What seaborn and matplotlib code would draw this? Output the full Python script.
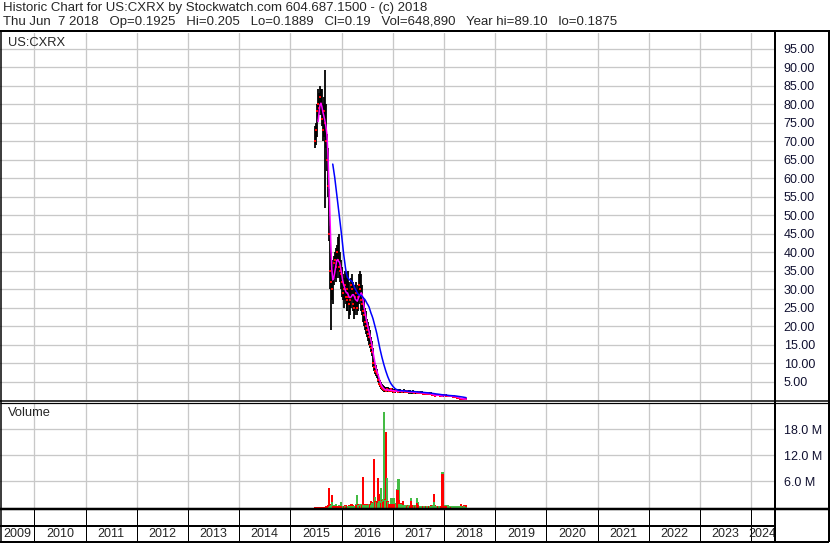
import numpy as np
import pandas as pd
import matplotlib
matplotlib.use("Agg")
import matplotlib.pyplot as plt
from matplotlib.lines import Line2D
import seaborn as sns

# ---------------- data (weekly) ----------------
dates = pd.date_range("2015-06-26", periods=155, freq="W-FRI")

high = [74, 75, 80, 84, 83, 85, 84, 84, 80, 82,
        89.1, 80, 72, 68, 57, 47, 40, 38, 36, 39,
        40, 41, 42, 44, 45, 40, 38, 36, 34, 33,
        35, 34, 32, 33, 35, 32, 30, 33, 34, 32,
        30, 31, 32, 30, 31, 34, 35, 34, 31, 28,
        27, 25, 24, 22, 21, 20, 19, 17, 16, 14,
        11, 10, 9.5, 8.5, 7, 6, 5.5, 5, 4.5, 4,
        3.8, 3.6, 3.5, 3.7, 3.5, 3.3, 3.2, 3.4, 3.2, 3.0,
        3.1, 3.0, 2.9, 3.1, 3.0, 2.8, 2.9, 3.0, 2.8, 2.7,
        2.8, 2.9, 2.7, 2.6, 2.8, 2.7, 2.6, 2.7, 2.6, 2.5,
        2.7, 2.6, 2.5, 2.6, 2.5, 2.4, 2.5, 2.4, 2.3, 2.4,
        2.3, 2.2, 2.3, 2.2, 2.1, 2.2, 2.1, 2.0, 2.1, 2.0,
        1.9, 1.8, 1.7, 1.6, 1.7, 1.8, 1.7, 1.6, 1.5, 1.4,
        1.6, 1.8, 1.7, 1.6, 1.5, 1.4, 1.5, 1.4, 1.3, 1.4,
        1.3, 1.2, 1.3, 1.2, 1.1, 1.0, 0.9, 0.8, 0.7, 0.6,
        0.5, 0.4, 0.35, 0.3, 0.205]

low = [68, 69, 71, 76, 77, 78, 77, 74, 70, 71,
       52, 68, 62, 55, 43, 30, 19, 27, 26, 31,
       33, 32, 33, 35, 33, 32, 30, 28, 27, 25,
       27, 26, 24, 24, 26, 22, 23, 25, 27, 24,
       22, 23, 25, 23, 24, 26, 27, 24, 23, 21,
       20, 19, 18, 17, 16, 15, 14, 13, 12, 9,
       8, 7, 6.5, 6, 5, 4, 3.5, 3, 2.8, 2.5,
       2.3, 2.2, 2.2, 2.3, 2.4, 2.2, 2.1, 2.3, 2.2, 2.0,
       2.1, 2.0, 1.9, 2.1, 2.2, 2.0, 2.0, 2.1, 2.0, 1.9,
       2.0, 2.1, 1.9, 1.9, 2.0, 1.9, 1.8, 1.9, 1.8, 1.8,
       1.9, 1.8, 1.7, 1.8, 1.7, 1.7, 1.8, 1.7, 1.6, 1.7,
       1.6, 1.5, 1.6, 1.5, 1.5, 1.6, 1.5, 1.4, 1.5, 1.4,
       1.2, 1.1, 1.0, 1.0, 1.1, 1.2, 1.1, 1.0, 0.9, 0.9,
       0.9, 1.1, 1.1, 1.0, 1.0, 0.9, 1.0, 0.9, 0.8, 0.9,
       0.8, 0.7, 0.8, 0.7, 0.6, 0.5, 0.4, 0.4, 0.35, 0.3,
       0.25, 0.22, 0.2, 0.19, 0.1889]

close = [70, 73, 78, 80, 79, 82, 80, 76, 73, 78,
         75, 70, 65, 58, 45, 35, 32, 30, 33, 37,
         38, 36, 40, 38, 36, 35, 34, 32, 29, 30,
         31, 28, 27, 30, 28, 26, 27, 31, 30, 26,
         25, 28, 29, 25, 28, 31, 30, 27, 26, 24,
         23, 21, 20, 19, 18, 17, 15, 14, 13, 10,
         9, 8, 7.5, 7, 5.5, 4.5, 4, 3.5, 3.2, 3.0,
         2.8, 2.7, 2.6, 3.0, 2.8, 2.5, 2.6, 2.9, 2.5, 2.4,
         2.6, 2.3, 2.4, 2.7, 2.5, 2.3, 2.5, 2.6, 2.4, 2.2,
         2.4, 2.5, 2.3, 2.2, 2.4, 2.2, 2.1, 2.3, 2.2, 2.1,
         2.3, 2.0, 2.1, 2.2, 2.0, 1.9, 2.1, 2.0, 1.9, 2.0,
         1.8, 1.9, 1.8, 1.7, 1.8, 1.9, 1.7, 1.6, 1.7, 1.5,
         1.4, 1.3, 1.2, 1.3, 1.4, 1.5, 1.3, 1.2, 1.1, 1.0,
         1.3, 1.5, 1.3, 1.2, 1.2, 1.1, 1.2, 1.1, 1.0, 1.1,
         1.0, 0.9, 1.0, 0.9, 0.8, 0.7, 0.6, 0.5, 0.45, 0.4,
         0.35, 0.3, 0.25, 0.22, 0.19]

# volume in millions (down weeks red, up weeks green)
vol_red = [0.1, 0.1, 0.05, 0.1, 0.1, 0.05, 0.1, 0.1, 0.1, 0.15,
           0.2, 0.3, 0.4, 0.6, 4.4, 0.8, 0.5, 2.8, 0.4, 0.3,
           0.3, 0.2, 0.3, 0.2, 0.4, 0.3, 0.2, 0.3, 0.2, 0.4,
           0.3, 0.5, 0.2, 0.3, 0.4, 0.6, 0.4, 0.7, 0.8, 0.5,
           0.3, 0.4, 0.5, 0.3, 0.8, 0.6, 0.4, 0.8, 0.5, 7.0,
           0.7, 0.5, 0.8, 0.7, 0.6, 0.8, 0.7, 1.5, 1.2, 1.0,
           11.1, 1.4, 1.6, 1.2, 6.8, 3.2, 1.6, 1.0, 1.8, 1.2,
           1.4, 2.0, 17.4, 1.6, 1.6, 0.8, 0.7, 0.6, 0.7, 0.5,
           0.7, 0.6, 0.8, 1.0, 4.0, 1.8, 0.9, 0.8, 1.0, 0.7,
           1.6, 0.6, 0.5, 0.6, 0.4, 0.5, 0.6, 0.4, 1.5, 0.5,
           0.3, 0.4, 0.3, 0.5, 1.0, 0.6, 0.3, 0.3, 0.4, 0.3,
           0.3, 0.4, 0.3, 0.3, 0.3, 0.4, 0.3, 0.3, 0.5, 0.4,
           0.6, 3.2, 0.5, 0.4, 0.3, 0.3, 0.4, 0.3, 0.3, 0.4,
           7.8, 0.3, 0.4, 0.3, 0.3, 0.3, 0.4, 0.3, 0.3, 0.2,
           0.3, 0.3, 0.4, 0.3, 0.3, 0.3, 0.4, 0.3, 0.4, 0.7,
           0.3, 0.2, 0.6, 0.6, 0.5]

vol_green = [0, 0, 0, 0, 0, 0, 0, 0, 0, 0,
             0, 0, 0, 0, 0.2, 0.3, 0.5, 1.3, 0.6, 0.5,
             0.6, 0.8, 0.4, 0.3, 0.5, 0.6, 1.3, 0.4, 0.3, 0.3,
             0.4, 0.3, 0.3, 0.4, 0.3, 0.3, 0.4, 0.3, 0.3, 0.4,
             0.3, 0.4, 0.8, 2.8, 0.6, 0.5, 0.8, 0.8, 0.8, 0.6,
             0.4, 0.5, 0.4, 0.6, 0.5, 0.7, 0.8, 0.6, 1.0, 0.9,
             1.4, 2.5, 1.2, 1.3, 1.0, 1.6, 1.2, 4.5, 1.5, 2.0,
             22.0, 1.8, 1.4, 6.8, 1.3, 0.9, 0.8, 2.2, 2.0, 2.2,
             2.1, 0.8, 0.9, 1.0, 4.3, 6.5, 0.8, 0.6, 0.7, 0.5,
             0.6, 0.4, 0.5, 0.6, 0.5, 0.4, 0.5, 0.6, 2.2, 0.6,
             0.5, 0.4, 0.6, 0.5, 2.2, 1.2, 0.4, 0.3, 0.4, 0.3,
             0.4, 0.3, 0.3, 0.4, 0.3, 0.3, 0.4, 0.3, 0.3, 0.4,
             0.5, 1.3, 0.4, 0.3, 0.3, 0.4, 0.3, 0.3, 0.4, 0.3,
             8.3, 0.6, 0.6, 0.6, 0.6, 0.6, 0.4, 0.3, 0.3, 0.3,
             0.3, 0.2, 0.3, 0.3, 0.3, 0.2, 0.3, 0.3, 0.3, 0.3,
             0.2, 0.2, 0.3, 0.2, 0.2]

price_ticks = [5, 10, 15, 20, 25, 30, 35, 40, 45, 50,
               55, 60, 65, 70, 75, 80, 85, 90, 95]
vol_ticks = [6, 12, 18]
years = list(range(2009, 2025))

title_line1 = "Historic Chart for US:CXRX by Stockwatch.com 604.687.1500 - (c) 2018"
title_line2 = ("Thu Jun  7 2018   Op=0.1925   Hi=0.205   Lo=0.1889   Cl=0.19   "
               "Vol=648,890   Year hi=89.10   lo=0.1875")

# ---------------- setup ----------------
sns.set_style("white")
plt.rcParams["font.family"] = ["Liberation Sans", "DejaVu Sans"]

W, H = 830, 543
fig = plt.figure(figsize=(W / 100, H / 100), dpi=100)
fig.patch.set_facecolor("white")
PX = 0.72  # points per pixel


def add_ax(x0, y0, x1, y1):
    return fig.add_axes([x0 / W, 1 - y1 / H, (x1 - x0) / W, (y1 - y0) / H])


def hline(y, x0, x1, lw):
    fig.add_artist(Line2D([x0 / W, x1 / W], [1 - y / H, 1 - y / H],
                          transform=fig.transFigure, color="black", lw=lw * PX,
                          solid_capstyle="butt"))


def vline(x, y0, y1, lw):
    fig.add_artist(Line2D([x / W, x / W], [1 - y0 / H, 1 - y1 / H],
                          transform=fig.transFigure, color="black", lw=lw * PX,
                          solid_capstyle="butt"))


t = dates.year + (dates.dayofyear - 1) / 365.25
df = pd.DataFrame({"t": t, "high": high, "low": low, "close": close,
                   "vr": vol_red, "vg": vol_green})
df["ma_short"] = df["close"].rolling(4).mean()
df["ma_long"] = df["close"].rolling(19).mean()

X0, X1 = 2009.328, 2024.445
GRID = "#c8c8c8"
year_edges = list(range(2010, 2025))

# ---------------- price panel ----------------
axp = add_ax(0, 33, 774, 400.2)
axp.set_xlim(X0, X1)
axp.set_ylim(0, 99.2)
for y in price_ticks:
    axp.axhline(y, color=GRID, lw=1.3 * PX, zorder=0)
for x in year_edges:
    axp.axvline(x, color=GRID, lw=1.3 * PX, zorder=0)
axp.vlines(df["t"], df["low"], df["high"], color="black", lw=1.8 * PX, zorder=2)
axp.plot(df["t"], df["close"], ls="none", marker="s", ms=1.6, color="red",
         mew=0, zorder=3)
sns.lineplot(data=df, x="t", y="ma_short", color="#ff00ff", lw=1.1, ax=axp,
             zorder=4, estimator=None)
sns.lineplot(data=df, x="t", y="ma_long", color="#0000ff", lw=1.1, ax=axp,
             zorder=5, estimator=None)
axp.set_xlabel("")
axp.set_ylabel("")
axp.set_xticks([])
axp.yaxis.tick_right()
axp.set_yticks(price_ticks)
axp.set_yticklabels([f"{v:.2f}" for v in price_ticks])
axp.tick_params(axis="y", length=0, pad=7, labelsize=9, labelcolor="#101030")
for s in axp.spines.values():
    s.set_visible(False)
axp.text(8 / 774, 1 - 10 / 367, "US:CXRX", transform=axp.transAxes,
         fontsize=9.3, va="center", ha="left")

# ---------------- volume panel ----------------
axv = add_ax(0, 403, 774, 507.5)
axv.set_xlim(X0, X1)
axv.set_ylim(0, 24.1)
for y in vol_ticks:
    axv.axhline(y, color=GRID, lw=1.3 * PX, zorder=0)
for x in year_edges:
    axv.axvline(x, color=GRID, lw=1.3 * PX, zorder=0)
vr = np.array(vol_red)
vg = np.array(vol_green)
big = np.maximum(vr, vg)
small = np.minimum(vr, vg)
big_col = np.where(vr >= vg, "#ff0000", "#44bb44")
small_col = np.where(vr >= vg, "#44bb44", "#ff0000")
bw = 2.2 / 52
axv.bar(df["t"], big, width=bw, color=big_col, linewidth=0, zorder=2)
axv.bar(df["t"], small, width=bw, color=small_col, linewidth=0, zorder=3)
axv.set_xticks([])
axv.yaxis.tick_right()
axv.set_yticks(vol_ticks)
axv.set_yticklabels([f"{v:.1f} M" for v in vol_ticks])
axv.tick_params(axis="y", length=0, pad=7, labelsize=9, labelcolor="#101030")
for s in axv.spines.values():
    s.set_visible(False)
axv.text(8 / 774, 1 - 10 / 104.5, "Volume", transform=axv.transAxes,
         fontsize=9.3, va="center", ha="left")

# ---------------- date strip ----------------
axd = add_ax(0, 509, 774, 541)
axd.set_xlim(X0, X1)
axd.set_ylim(0, 1)
axd.set_xticks([])
axd.set_yticks([])
for s in axd.spines.values():
    s.set_visible(False)
for x in year_edges:
    axd.axvline(x, color="black", lw=1.0 * PX)
for yr in years:
    if yr == 2009:
        xc = (X0 + 2010) / 2
    elif yr == 2024:
        xc = (2024 + X1) / 2
    else:
        xc = yr + 0.5
    axd.text(xc, 0.22, str(yr), ha="center", va="center", fontsize=9,
             family=["Liberation Sans Narrow", "Liberation Sans", "DejaVu Sans"])

# ---------------- frame lines ----------------
hline(30.5, 0, 829, 2)
hline(541.5, 0, 829, 2)
vline(0.75, 30, 542, 1.5)
vline(828.5, 30, 542, 2)
vline(774.5, 30, 542, 2)
hline(400.8, 0, 829, 1.5)
hline(403.2, 0, 829, 1.2)
hline(509, 0, 829, 2.5)
hline(525.5, 0, 774, 2)

# ---------------- header ----------------
fig.text(3 / W, 1 - 8 / H, title_line1, fontsize=9.5, va="center", ha="left")
fig.text(3 / W, 1 - 21.5 / H, title_line2, fontsize=9.5, va="center", ha="left")

fig.savefig("out.png", dpi=100, facecolor="white")
